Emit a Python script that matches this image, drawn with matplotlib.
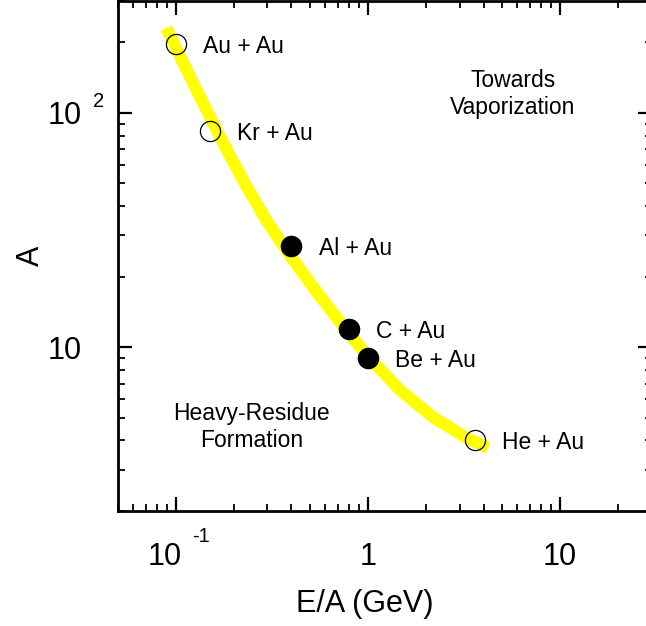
import matplotlib
matplotlib.use('Agg')
import matplotlib.pyplot as plt
from matplotlib.ticker import LogLocator, NullFormatter, FixedLocator

plt.rcParams['font.family'] = ['Liberation Sans', 'DejaVu Sans']

# reactions (projectile + target), beam energy per nucleon and projectile mass
systems = ['Au + Au', 'Kr + Au', 'Al + Au', 'C + Au', 'Be + Au', 'He + Au']
energy = [0.10, 0.15, 0.40, 0.80, 1.0, 3.6]
mass = [197, 84, 27, 12, 9, 4]
filled = [False, False, True, True, True, False]

# yellow band
band_x = [0.0892, 0.1049, 0.1256, 0.1522, 0.1866, 0.2315, 0.2942, 0.3878,
          0.5171, 0.7148, 1.0, 1.468, 2.181, 3.279, 4.217]
band_y = [230.1, 175.2, 129.4, 94.5, 68.1, 49.1, 35.1, 25.0,
          18.08, 12.80, 9.14, 6.57, 5.03, 4.09, 3.72]

# tick labels: base and exponent
x_ticks = [0.1, 1, 10]
x_base = ['10', '1', '10']
x_exp = ['-1', '', '']
y_ticks = [10, 100]
y_base = ['10', '10']
y_exp = ['', '2']

fig = plt.figure(figsize=(6.46, 6.26), dpi=100)
ax = fig.add_axes([0.18266, 0.18371, 0.8260, 0.8146])
ax.set_xscale('log')
ax.set_yscale('log')
ax.set_xlim(0.05, 30)
ax.set_ylim(2, 300)

ax.plot(band_x, band_y, color='#ffff00', lw=8.7, solid_capstyle='butt',
        solid_joinstyle='round', zorder=1)

for name, e, a, f in zip(systems, energy, mass, filled):
    if f:
        ax.plot(e, a, 'o', ms=14.5, color='black', zorder=3)
    else:
        ax.plot(e, a, 'o', ms=14.5, mfc='none', mec='black', mew=0.9, zorder=3)
    ax.annotate(name, (e, a), xytext=(19.5, 0), textcoords='offset points',
                ha='left', va='center_baseline', fontsize=16.5)

ax.text(0.740, 0.818, 'Towards\nVaporization', transform=ax.transAxes,
        ha='center', va='center', fontsize=16.5, linespacing=1.25)
ax.text(0.250, 0.165, 'Heavy-Residue\nFormation', transform=ax.transAxes,
        ha='center', va='center', fontsize=16.5, linespacing=1.25)

# ticks
for s in ax.spines.values():
    s.set_linewidth(2)
ax.tick_params(which='both', direction='in', top=True, right=True)
ax.tick_params(which='major', length=10, width=1.6)
ax.tick_params(which='minor', length=5, width=1.3)
ax.xaxis.set_major_locator(FixedLocator(x_ticks))
ax.yaxis.set_major_locator(FixedLocator(y_ticks))
ax.xaxis.set_minor_locator(LogLocator(base=10, subs=range(2, 10), numticks=20))
ax.yaxis.set_minor_locator(LogLocator(base=10, subs=range(2, 10), numticks=20))
ax.xaxis.set_major_formatter(NullFormatter())
ax.yaxis.set_major_formatter(NullFormatter())
ax.xaxis.set_minor_formatter(NullFormatter())
ax.yaxis.set_minor_formatter(NullFormatter())

# tick labels drawn as base + spaced superscript
for t, b, p in zip(x_ticks, x_base, x_exp):
    if p:
        ax.annotate(b, (t, 0), xycoords=('data', 'axes fraction'), xytext=(-11.5, -54),
                    textcoords='offset pixels', ha='center', va='baseline', fontsize=22)
        ax.annotate(p, (t, 0), xycoords=('data', 'axes fraction'), xytext=(16, -31),
                    textcoords='offset pixels', ha='left', va='baseline', fontsize=14.5)
    else:
        ax.annotate(b, (t, 0), xycoords=('data', 'axes fraction'), xytext=(0, -54),
                    textcoords='offset pixels', ha='center', va='baseline', fontsize=22)
for t, b, p in zip(y_ticks, y_base, y_exp):
    ax.annotate(b, (0, t), xycoords=('axes fraction', 'data'), xytext=(-36, -11.5),
                textcoords='offset pixels', ha='right', va='baseline', fontsize=22)
    if p:
        ax.annotate(p, (0, t), xycoords=('axes fraction', 'data'), xytext=(-25, 6),
                    textcoords='offset pixels', ha='left', va='baseline', fontsize=14.5)

ax.set_xlabel('E/A (GeV)', fontsize=22, va='baseline')
ax.xaxis.set_label_coords(0.463, -0.1976)
ax.set_ylabel('A', fontsize=22, va='baseline')
ax.yaxis.set_label_coords(-0.149, 0.5)

fig.savefig('out.png', dpi=100)
